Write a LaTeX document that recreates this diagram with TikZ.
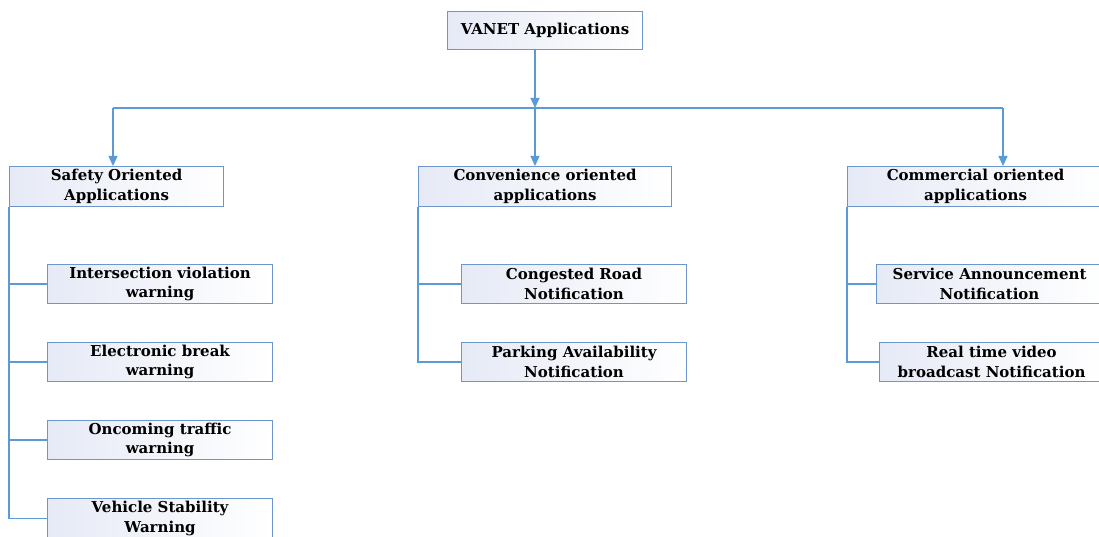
\documentclass[tikz,border=0pt]{standalone}
\usepackage{fontspec}
\setmainfont{DejaVu Serif}
\usetikzlibrary{arrows.meta}
\definecolor{linkblue}{RGB}{91,155,213}
\definecolor{boxline}{RGB}{108,150,204}
\definecolor{boxshade}{RGB}{230,234,246}
\begin{document}
\begin{tikzpicture}[x=1pt,y=-1pt,
  box/.style={draw=boxline, line width=1.1pt, left color=boxshade, right color=white,
    align=center, font=\bfseries\fontsize{15}{19.5}\selectfont, inner sep=0pt,
    anchor=north west, minimum height=39pt},
  link/.style={draw=linkblue, line width=1.3pt},
  arr/.style={link, -{Triangle[length=10pt,width=9pt]}}]
\useasboundingbox (0,0) rectangle (1099,537);

% root
\node[box, minimum width=195pt, minimum height=38pt] (root) at (447,11) {VANET Applications};

% categories
\node[box, minimum width=214pt, minimum height=40pt] (safety) at (9,166) {Safety Oriented\\Applications};
\node[box, minimum width=253pt, minimum height=40pt] (conv) at (418,166) {Convenience oriented\\applications};
\node[box, minimum width=256pt, minimum height=40pt] (comm) at (847,166) {Commercial oriented\\applications};

% safety items
\node[box, minimum width=225pt] (inter) at (47,264) {Intersection violation\\warning};
\node[box, minimum width=225pt] (ebreak) at (47,342) {Electronic break\\warning};
\node[box, minimum width=225pt] (oncoming) at (47,420) {Oncoming traffic\\warning};
\node[box, minimum width=225pt, minimum height=40pt] (stability) at (47,498) {Vehicle Stability\\Warning};

% convenience items
\node[box, minimum width=225pt] (congested) at (461,264) {Congested Road\\Notification};
\node[box, minimum width=225pt] (parking) at (461,342) {Parking Availability\\Notification};

% commercial items
\node[box, minimum width=226pt] (service) at (876,264) {Service Announcement\\Notification};
\node[box, minimum width=224pt] (video) at (879,342) {Real time video\\broadcast Notification};

% trunk and bus
\coordinate (top) at (535,49);
\coordinate (bus) at (535,108);
\coordinate (busL) at (113,108);
\coordinate (busR) at (1003,108);
\draw[arr] (top) -- (bus);
\draw[link] (busL) -- (busR);
\draw[arr] (busL) -- (busL |- safety.north);
\draw[arr] (bus) -- (bus |- conv.north);
\draw[arr] (busR) -- (busR |- comm.north);

% safety branch
\draw[link] (safety.south west) -- (safety.south west |- stability.west) -- (stability.west);
\draw[link] (safety.south west |- inter.west) -- (inter.west);
\draw[link] (safety.south west |- ebreak.west) -- (ebreak.west);
\draw[link] (safety.south west |- oncoming.west) -- (oncoming.west);

% convenience branch
\draw[link] (conv.south west) -- (conv.south west |- parking.west) -- (parking.west);
\draw[link] (conv.south west |- congested.west) -- (congested.west);

% commercial branch
\draw[link] (comm.south west) -- (comm.south west |- video.west) -- (video.west);
\draw[link] (comm.south west |- service.west) -- (service.west);
\end{tikzpicture}
\end{document}
